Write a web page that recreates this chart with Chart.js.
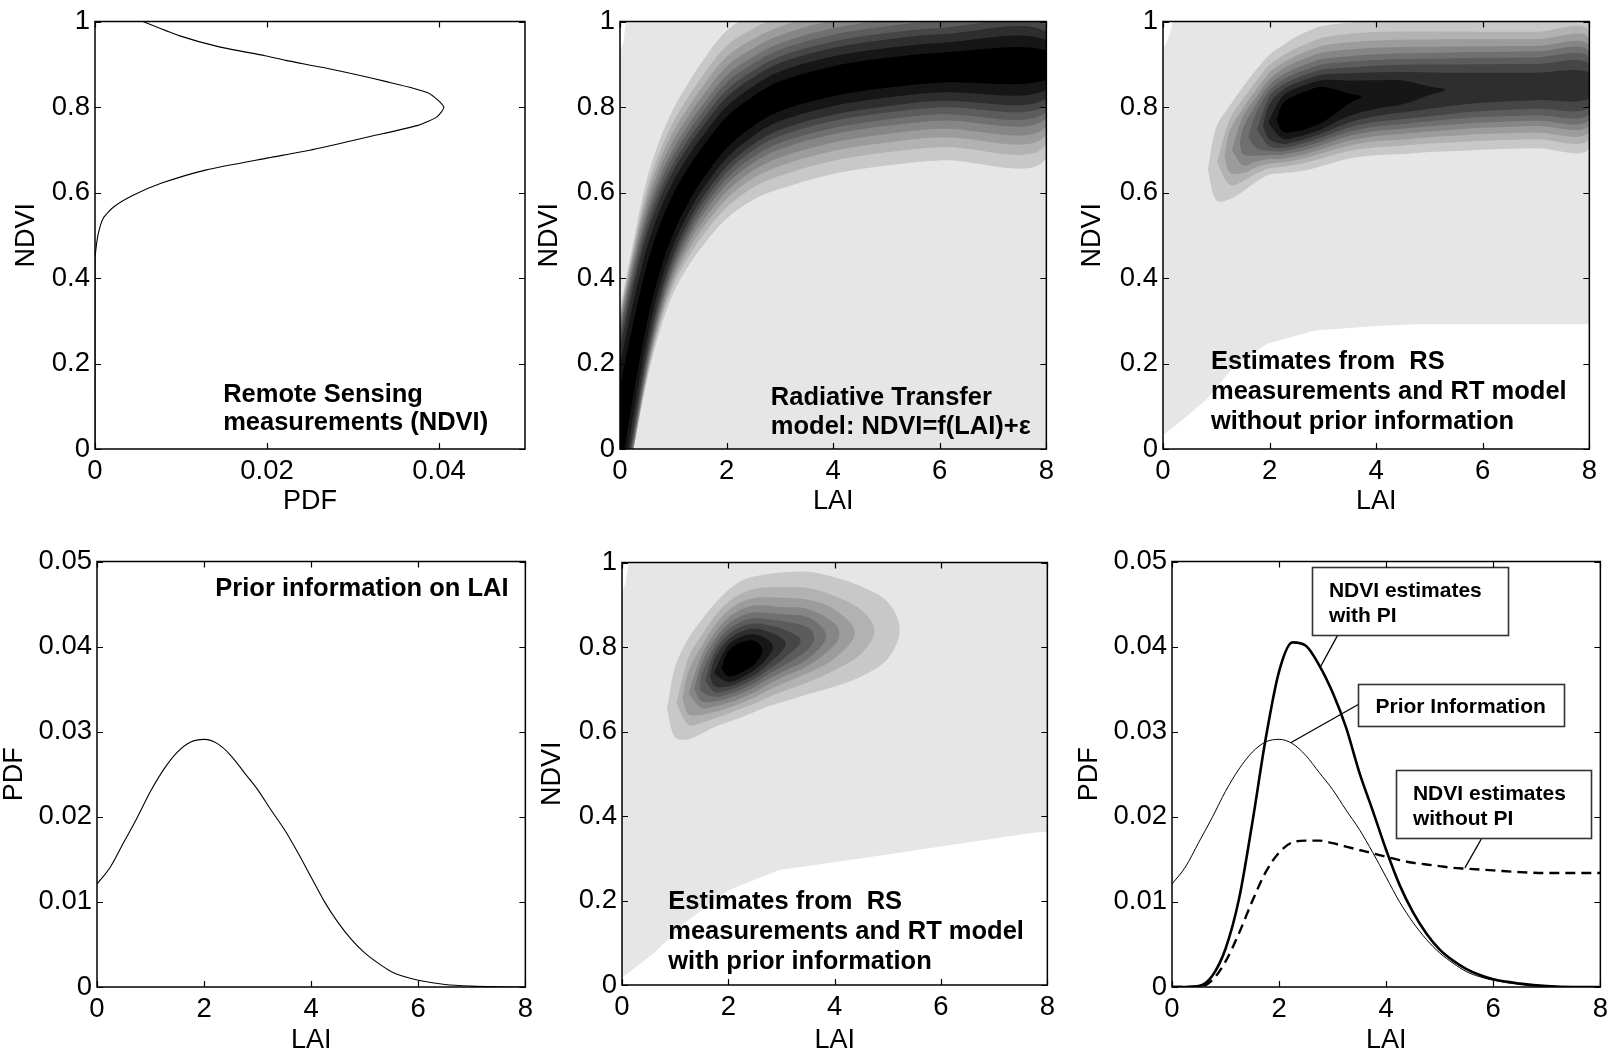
<!DOCTYPE html>
<html>
<head>
<meta charset="utf-8">
<script src="https://cdn.jsdelivr.net/npm/chart.js@4.4.1/dist/chart.umd.min.js"></script>
<style>
  html,body{margin:0;padding:0;background:#fff;}
  body{width:1614px;height:1056px;overflow:hidden;position:relative;}
  canvas{position:absolute;}
</style>
</head>
<body>
<canvas id="p1"></canvas><canvas id="p2"></canvas><canvas id="p3"></canvas>
<canvas id="p4"></canvas><canvas id="p5"></canvas><canvas id="p6"></canvas>
<script>
// ================= DATA =================
// Panel 1 : PDF of the remote sensing measurement (x = PDF, y = NDVI)
const p1Pdf  = [0.0, 0.0, 0.00008, 0.00036, 0.00096, 0.00216, 0.00437, 0.00776, 0.01296, 0.02016, 0.02496, 0.03176, 0.03756, 0.03975, 0.04056, 0.03876, 0.03376, 0.02736, 0.02216, 0.01977, 0.01456, 0.00977, 0.00556];
const p1Ndvi = [0.0, 0.44, 0.463, 0.502, 0.540, 0.566, 0.593, 0.622, 0.653, 0.681, 0.699, 0.730, 0.757, 0.777, 0.800, 0.833, 0.860, 0.889, 0.909, 0.920, 0.940, 0.967, 1.0];

// Panels 4 & 6 : PDFs over LAI
const laiGrid      = [0,0.25,0.5,0.75,1,1.25,1.5,1.75,2,2.25,2.5,2.75,3,3.25,3.5,3.75,4,4.25,4.5,4.75,5,5.25,5.5,5.75,6,6.5,7,7.5,8];
const priorPdf     = [0.0121,0.0141,0.0170,0.0199,0.0230,0.0256,0.0276,0.0288,0.0291,0.0286,0.0272,0.0252,0.0232,0.0208,0.0185,0.0158,0.0129,0.0100,0.0076,0.0056,0.0040,0.0028,0.0018,0.0012,0.0008,0.0003,0.0001,0.00003,0];
const withPiPdf    = [0,0,0.0001,0.0013,0.0045,0.0103,0.0193,0.0292,0.0371,0.0405,0.0401,0.0378,0.0346,0.0305,0.0252,0.0207,0.0161,0.0120,0.0088,0.0063,0.0044,0.0031,0.0021,0.0014,0.0009,0.0004,0.0001,0,0];
const withoutPiPdf = [0,0,0,0.0008,0.0030,0.0063,0.0101,0.0135,0.0158,0.0170,0.0172,0.0172,0.0169,0.0165,0.0161,0.0157,0.0153,0.0149,0.0146,0.0144,0.0142,0.0140,0.0139,0.0138,0.0137,0.0135,0.0134,0.0134,0.0134];

// Tick values / labels
const ndviTicks  = [0,0.2,0.4,0.6,0.8,1];
const ndviLabels = ["0","0.2","0.4","0.6","0.8","1"];
const laiTicks   = [0,2,4,6,8];
const laiLabels  = ["0","2","4","6","8"];
const pdfTicksX  = [0,0.02,0.04];
const pdfLabelsX = ["0","0.02","0.04"];
const pdfTicksY  = [0,0.01,0.02,0.03,0.04,0.05];
const pdfLabelsY = ["0","0.01","0.02","0.03","0.04","0.05"];

// Contour maps: filled levels (relative density) and their grays
const levels     = [0.05,0.15,0.25,0.35,0.45,0.55,0.65,0.75,0.85,0.95];
const levelGrays = [200,178,156,134,112,92,70,46,22,0];
const bgGray     = 230;
// Cross-ridge profile: relative level -> NDVI offset (read on panel 2 at LAI=8)
const profileR = [0,0.05,0.15,0.25,0.35,0.45,0.55,0.65,0.75,0.85,0.95,1];
const profileD = [0.30,0.217,0.186,0.163,0.143,0.124,0.109,0.093,0.078,0.058,0.035,0];

// Panel 2 : RT model likelihood
const rtLai    = [0,0.25,0.5,0.75,1,1.25,1.5,2,2.5,3,4,5,6,8];
const rtRidge  = [0.05,0.21,0.36,0.47,0.55,0.61,0.66,0.74,0.79,0.825,0.86,0.88,0.892,0.898];
const rtPeak   = [1,1,1,1,1,1,1,1,1,1,1,1,1,1];
const rtCore   = [2.8,2.5,2.0,1.6,1.35,1.2,1.1,1.05,1.0,1,1,1,1,1];
const rtUpTail = [1.2,1.2,1.2,1.15,1.12,1.1,1.1,1.1,1.05,1,1,1,1,1];
const rtDnTail = [0.9,0.9,0.88,0.85,0.83,0.85,0.88,0.92,0.95,1,1,1,1,1];
const rtWhiteLowLai  = [0,8];
const rtWhiteLowNdvi = [-0.05,-0.05];
const rtCornerLai    = [0.11,0.10,0.06,0];
const rtCornerNdvi   = [1.1,0.99,0.95,0.93];

// Panels 3 & 5 share the LAI knots
const estLai = [0.5,0.75,1,1.25,1.5,1.75,2,2.25,2.5,2.75,3,3.5,4,4.5,5,5.5,6,7,8];
// Panel 3 : estimates without prior information
const noPiRidge  = [0.62,0.645,0.67,0.695,0.72,0.745,0.765,0.775,0.785,0.795,0.805,0.82,0.829,0.834,0.838,0.842,0.845,0.848,0.85];
const noPiPeak   = [0,0,0.14,0.32,0.49,0.64,0.86,1.03,1.09,1.1,1.08,0.97,0.925,0.895,0.865,0.84,0.825,0.81,0.80];
const noPiCore   = [0.7,0.7,0.7,0.7,0.72,0.75,0.8,0.82,0.82,0.82,0.82,0.8,0.79,0.8,0.8,0.8,0.8,0.8,0.8];
const noPiUpTail = [0.48,0.5,0.52,0.56,0.62,0.68,0.73,0.77,0.8,0.82,0.83,0.82,0.8,0.78,0.76,0.74,0.72,0.7,0.7];
const noPiDnTail = [0.58,0.58,0.58,0.58,0.57,0.56,0.56,0.58,0.6,0.62,0.63,0.64,0.65,0.66,0.66,0.67,0.67,0.67,0.67];
const noPiWhiteLowLai  = [0,0.29,0.8,1.38,1.96,2.85,4.0,4.78,8];
const noPiWhiteLowNdvi = [0.033,0.06,0.114,0.2,0.246,0.277,0.288,0.292,0.292];
const noPiCornerLai    = [0.2,0.17,0.1,0];
const noPiCornerNdvi   = [1.1,0.99,0.96,0.935];
// Panel 5 : estimates with prior information
const piRidge  = [0.62,0.645,0.665,0.69,0.715,0.74,0.76,0.775,0.787,0.797,0.805,0.82,0.83,0.836,0.84,0.843,0.845,0.848,0.85];
const piPeak   = [0,0,0.13,0.35,0.58,0.86,1.05,1.09,1.03,0.89,0.78,0.60,0.38,0.21,0.09,0,0,0,0];
const piCore   = [0.6,0.6,0.6,0.6,0.6,0.62,0.65,0.66,0.65,0.62,0.6,0.6,0.6,0.6,0.6,0.6,0.6,0.6,0.6];
const piUpTail = [0.62,0.65,0.68,0.71,0.74,0.77,0.8,0.82,0.83,0.83,0.82,0.78,0.72,0.66,0.62,0.6,0.6,0.6,0.6];
const piDnTail = [0.57,0.57,0.57,0.57,0.58,0.6,0.62,0.63,0.64,0.64,0.64,0.64,0.65,0.65,0.65,0.65,0.65,0.65,0.65];
const piWhiteLowLai  = [0,0.6,1.17,2.0,2.96,4.25,5.53,6.81,7.78,8];
const piWhiteLowNdvi = [0.017,0.075,0.146,0.224,0.272,0.295,0.319,0.343,0.361,0.362];
const piCornerLai    = [0.14,0.12,0.06,0];
const piCornerNdvi   = [1.1,0.99,0.95,0.93];

// ================= RENDERING =================
const FONT = "'Liberation Sans', Arial, Helvetica, sans-serif";
const gray = g => `rgb(${g},${g},${g})`;
const pts = (xs, ys) => xs.map((x, i) => ({x, y: ys[i]}));

function lerpTable(xs, ys, x) {
  if (x <= xs[0]) return ys[0];
  for (let i = 1; i < xs.length; i++) {
    if (x <= xs[i]) { const t = (x - xs[i-1]) / (xs[i] - xs[i-1]); return ys[i-1] + t * (ys[i] - ys[i-1]); }
  }
  return ys[ys.length - 1];
}

function levelPolygon(m, c) {
  const K = m.lai, up = [], dn = [];
  const off = (i, tail) => {
    const r = Math.min(1, c / m.peak[i]);
    return lerpTable(profileR, profileD, r) * (tail[i] + (m.core[i] - tail[i]) * r);
  };
  const tip = (i, j) => {
    const t = (c - m.peak[i]) / (m.peak[j] - m.peak[i]);
    return {x: K[i] + t * (K[j] - K[i]), y: m.ridge[i] + t * (m.ridge[j] - m.ridge[i])};
  };
  let leftTip = null, rightTip = null, started = false;
  for (let i = 0; i < K.length; i++) {
    if (m.peak[i] >= c) {
      if (!started && i > 0) leftTip = tip(i - 1, i);
      started = true;
      up.push({x: K[i], y: m.ridge[i] + off(i, m.upTail)});
      dn.push({x: K[i], y: m.ridge[i] - off(i, m.dnTail)});
    } else if (started) { rightTip = tip(i - 1, i); break; }
  }
  if (!up.length) return null;
  const p = [];
  if (leftTip) p.push(leftTip);
  p.push(...up);
  if (rightTip) p.push(rightTip);
  p.push(...dn.reverse());
  p.push({x: p[0].x, y: p[0].y});
  return p;
}

function contourDatasets(m) {
  const ds = [];
  const bg = pts(m.lowLai, m.lowNdvi);
  bg.push({x: 8, y: 1.1});
  bg.push(...pts(m.cornerLai, m.cornerNdvi));
  bg.push({x: m.lowLai[0], y: m.lowNdvi[0]});
  ds.push({data: bg, fill: 'shape', backgroundColor: gray(bgGray), borderWidth: 0, pointRadius: 0, tension: 0, order: 100});
  levels.forEach((c, k) => {
    const poly = levelPolygon(m, c);
    if (!poly) return;
    ds.push({data: poly, fill: 'shape', backgroundColor: gray(levelGrays[k]), borderWidth: 0,
             pointRadius: 0, tension: 0.35, order: 90 - k});
  });
  return ds;
}

const decoPlugin = {
  id: 'deco',
  afterDatasetsDraw(chart, args, opts) {
    const {ctx, chartArea: a} = chart;
    const xs = chart.scales.x, ys = chart.scales.y;
    const X = v => xs.getPixelForValue(v), Y = v => ys.getPixelForValue(v);
    ctx.save();
    (opts.leaders || []).forEach(l => {
      ctx.beginPath(); ctx.strokeStyle = '#000'; ctx.lineWidth = 1.3;
      ctx.moveTo(X(l[0]), Y(l[1])); ctx.lineTo(X(l[2]), Y(l[3])); ctx.stroke();
    });
    (opts.boxes || []).forEach(b => {
      const x0 = Math.round(X(b[0])) + 0.5, x1 = Math.round(X(b[1])) + 0.5;
      const y0 = Math.round(Y(b[2])) + 0.5, y1 = Math.round(Y(b[3])) + 0.5;
      ctx.fillStyle = '#fff'; ctx.fillRect(x0, y0, x1 - x0, y1 - y0);
      ctx.strokeStyle = '#333'; ctx.lineWidth = 1.6; ctx.strokeRect(x0, y0, x1 - x0, y1 - y0);
    });
    ctx.fillStyle = '#000';
    ctx.textBaseline = 'alphabetic'; ctx.textAlign = 'left';
    (opts.texts || []).forEach(t => {
      ctx.font = `bold ${t.size}px ${FONT}`;
      t.lines.forEach((s, i) => ctx.fillText(s, X(t.x), Y(t.y) + i * t.dy));
    });
    // frame + inward ticks on all four sides
    ctx.strokeStyle = '#000'; ctx.lineWidth = 1.5;
    ctx.strokeRect(a.left, a.top, a.right - a.left, a.bottom - a.top);
    ctx.lineWidth = 1.2; const TL = 6;
    ctx.beginPath();
    xs.ticks.forEach(t => { const px = Math.round(X(t.value)) + 0.5;
      ctx.moveTo(px, a.bottom); ctx.lineTo(px, a.bottom - TL); ctx.moveTo(px, a.top); ctx.lineTo(px, a.top + TL); });
    ys.ticks.forEach(t => { const py = Math.round(Y(t.value)) + 0.5;
      ctx.moveTo(a.left, py); ctx.lineTo(a.left + TL, py); ctx.moveTo(a.right, py); ctx.lineTo(a.right - TL, py); });
    ctx.stroke();
    ctx.restore();
  }
};

const PAD_L = 95, PAD_T = 19, PAD_R = 11;
const TICK_SIZE = 27.5, TITLE_SIZE = 27;
function panel(id, rect, cfg) {
  const padB = rect.padB;
  const cv = document.getElementById(id);
  const W = rect.R - rect.L + PAD_L + PAD_R, H = rect.B - rect.T + PAD_T + padB;
  const left = rect.L - PAD_L, top = rect.T - PAD_T;
  cv.width = W; cv.height = H;
  Object.assign(cv.style, {left: left + 'px', top: top + 'px', width: W + 'px', height: H + 'px'});
  const tickFont = {family: FONT, size: TICK_SIZE};
  const yTitlePad = rect.yTitleX - left - TITLE_SIZE / 2;
  const xTitlePad = (top + H) - rect.xTitleY - TITLE_SIZE / 2;
  const axis = (isX, min, max, ticks, labels, title) => ({
    type: 'linear', min, max, position: isX ? 'bottom' : 'left',
    afterBuildTicks: s => { s.ticks = ticks.map(v => ({value: v})); },
    afterFit: s => { if (isX) s.height = padB; else s.width = PAD_L; },
    ticks: {callback: (v, i) => labels[i], font: tickFont, color: '#000', padding: isX ? 6 : 5,
            autoSkip: false, maxRotation: 0, minRotation: 0},
    grid: {display: false, drawTicks: false},
    border: {display: false},
    title: {display: true, text: title, color: '#000',
            font: {family: FONT, size: TITLE_SIZE, lineHeight: 1},
            padding: isX ? {top: 0, bottom: xTitlePad} : {top: yTitlePad, bottom: 0}}
  });
  return new Chart(cv, {
    type: 'line',
    data: {datasets: cfg.datasets},
    options: {
      responsive: false, animation: false, devicePixelRatio: 1, events: [],
      layout: {padding: {left: 0, top: PAD_T, right: PAD_R, bottom: 0}},
      elements: {line: {capBezierPoints: false}, point: {radius: 0}},
      scales: {x: axis(true, cfg.x[0], cfg.x[1], cfg.x[2], cfg.x[3], cfg.x[4]),
               y: axis(false, cfg.y[0], cfg.y[1], cfg.y[2], cfg.y[3], cfg.y[4])},
      plugins: {legend: {display: false}, tooltip: {enabled: false}, deco: cfg.deco || {}}
    },
    plugins: [decoPlugin]
  });
}

const ndviAxis = [0, 1, ndviTicks, ndviLabels, 'NDVI'];
const laiAxis  = [0, 8, laiTicks, laiLabels, 'LAI'];
const pdfAxisY = [0, 0.05, pdfTicksY, pdfLabelsY, 'PDF'];
const ROW1_XT = 502, ROW2_XT = 1041;

// Panel 1
panel('p1', {L: 95, T: 19, R: 525, B: 449, padB: 70, yTitleX: 27, xTitleY: ROW1_XT}, {
  datasets: [{data: pts(p1Pdf, p1Ndvi), borderColor: '#000', borderWidth: 1.1, fill: false, tension: 0.2, pointRadius: 0}],
  x: [0, 0.05, pdfTicksX, pdfLabelsX, 'PDF'], y: ndviAxis,
  deco: {texts: [{x: 0.0149, y: 0.110, dy: 28.5, size: 25.5, lines: ['Remote Sensing', 'measurements (NDVI)']}]}
});
// Panel 2
panel('p2', {L: 620, T: 19, R: 1049, B: 449, padB: 70, yTitleX: 549.5, xTitleY: ROW1_XT}, {
  datasets: contourDatasets({lai: rtLai, ridge: rtRidge, peak: rtPeak, core: rtCore, upTail: rtUpTail, dnTail: rtDnTail,
    lowLai: rtWhiteLowLai, lowNdvi: rtWhiteLowNdvi, cornerLai: rtCornerLai, cornerNdvi: rtCornerNdvi}),
  x: laiAxis, y: ndviAxis,
  deco: {texts: [{x: 2.83, y: 0.102, dy: 28.5, size: 25.5, lines: ['Radiative Transfer', 'model: NDVI=f(LAI)+\u03b5']}]}
});
// Panel 3
panel('p3', {L: 1163, T: 19, R: 1592, B: 449, padB: 70, yTitleX: 1093, xTitleY: ROW1_XT}, {
  datasets: contourDatasets({lai: estLai, ridge: noPiRidge, peak: noPiPeak, core: noPiCore, upTail: noPiUpTail, dnTail: noPiDnTail,
    lowLai: noPiWhiteLowLai, lowNdvi: noPiWhiteLowNdvi, cornerLai: noPiCornerLai, cornerNdvi: noPiCornerNdvi}),
  x: laiAxis, y: ndviAxis,
  deco: {texts: [{x: 0.90, y: 0.188, dy: 30, size: 25.5, lines: ['Estimates from  RS', 'measurements and RT model', 'without prior information']}]}
});
// Panel 4
panel('p4', {L: 97, T: 559, R: 528, B: 987, padB: 69, yTitleX: 14.6, xTitleY: ROW2_XT}, {
  datasets: [{data: pts(laiGrid, priorPdf), borderColor: '#000', borderWidth: 1.1, fill: false, cubicInterpolationMode: 'monotone', pointRadius: 0}],
  x: laiAxis, y: pdfAxisY,
  deco: {texts: [{x: 2.21, y: 0.0460, dy: 0, size: 25.5, lines: ['Prior information on LAI']}]}
});
// Panel 5
panel('p5', {L: 622, T: 560, R: 1050, B: 985, padB: 71, yTitleX: 553, xTitleY: ROW2_XT}, {
  datasets: contourDatasets({lai: estLai, ridge: piRidge, peak: piPeak, core: piCore, upTail: piUpTail, dnTail: piDnTail,
    lowLai: piWhiteLowLai, lowNdvi: piWhiteLowNdvi, cornerLai: piCornerLai, cornerNdvi: piCornerNdvi}),
  x: laiAxis, y: ndviAxis,
  deco: {texts: [{x: 0.87, y: 0.181, dy: 30, size: 25.5, lines: ['Estimates from  RS', 'measurements and RT model', 'with prior information']}]}
});
// Panel 6
panel('p6', {L: 1172, T: 559, R: 1603, B: 987, padB: 69, yTitleX: 1089.6, xTitleY: ROW2_XT}, {
  datasets: [
    {data: pts(laiGrid, withPiPdf), borderColor: '#000', borderWidth: 2.6, fill: false, cubicInterpolationMode: 'monotone', pointRadius: 0},
    {data: pts(laiGrid, priorPdf), borderColor: '#000', borderWidth: 1.0, fill: false, cubicInterpolationMode: 'monotone', pointRadius: 0},
    {data: pts(laiGrid, withoutPiPdf), borderColor: '#000', borderWidth: 2.4, borderDash: [10, 6], fill: false, cubicInterpolationMode: 'monotone', pointRadius: 0}
  ],
  x: laiAxis, y: pdfAxisY,
  deco: {
    leaders: [[3.10, 0.0414, 2.77, 0.0376], [3.479, 0.0332, 2.216, 0.0287], [5.79, 0.01754, 5.47, 0.0140]],
    boxes: [[2.617, 6.27, 0.0493, 0.0414], [3.479, 7.322, 0.03566, 0.03071], [4.18, 7.82, 0.02553, 0.01754]],
    texts: [{x: 2.93, y: 0.0458, dy: 25, size: 21, lines: ['NDVI estimates', 'with PI']},
            {x: 3.80, y: 0.03215, dy: 0, size: 21, lines: ['Prior Information']},
            {x: 4.50, y: 0.02202, dy: 25, size: 21, lines: ['NDVI estimates', 'without PI']}]
  }
});
</script>
</body>
</html>
